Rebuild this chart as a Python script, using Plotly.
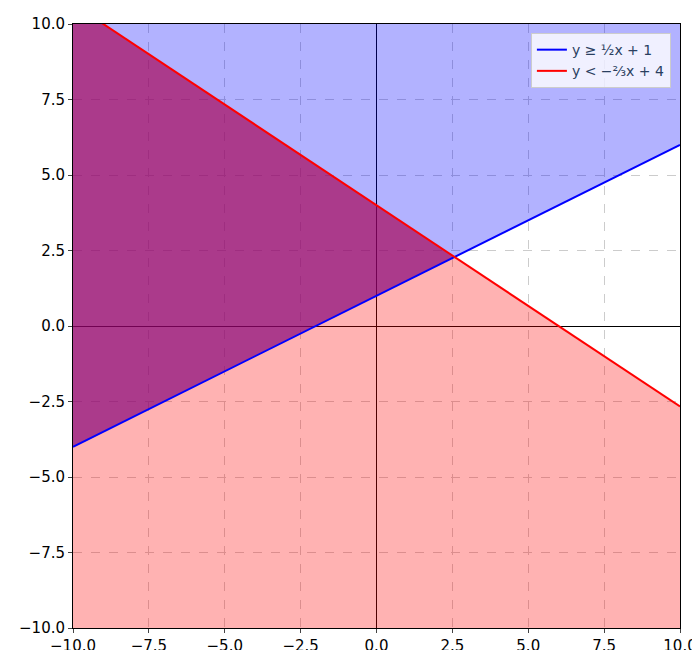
import numpy as np
import plotly.graph_objects as go

# line endpoints (x from -10 to 10)
line_x = [-10, 10]
blue_y = [-4.0, 6.0]        # y >= 1/2 x + 1
red_y = [10.667, -2.667]    # y < -2/3 x + 4
ticks = [-10, -7.5, -5, -2.5, 0, 2.5, 5, 7.5, 10]

lo, hi = -10, 10

# intersection of the two lines, from their endpoints
sb = (blue_y[1] - blue_y[0]) / (line_x[1] - line_x[0])
sr = (red_y[1] - red_y[0]) / (line_x[1] - line_x[0])
xi = line_x[0] + (red_y[0] - blue_y[0]) / (sb - sr)
yi = blue_y[0] + sb * (xi - line_x[0])

fig = go.Figure()

# blue region (above blue line)
fig.add_trace(go.Scatter(x=line_x + [hi, lo], y=blue_y + [hi, hi], fill="toself",
                         fillcolor="rgba(0,0,255,0.3)", line=dict(width=0), mode="lines",
                         showlegend=False, hoverinfo="skip"))
# red region (below red line)
fig.add_trace(go.Scatter(x=line_x + [hi, lo], y=red_y + [lo, lo], fill="toself",
                         fillcolor="rgba(255,0,0,0.3)", line=dict(width=0), mode="lines",
                         showlegend=False, hoverinfo="skip"))
# overlap, darkened to the purple of the reference
fig.add_trace(go.Scatter(x=[line_x[0], xi, line_x[0]], y=[blue_y[0], yi, red_y[0]], fill="toself",
                         fillcolor="rgba(145,3,107,0.55)", line=dict(width=0), mode="lines",
                         showlegend=False, hoverinfo="skip"))

fig.add_trace(go.Scatter(x=line_x, y=blue_y, mode="lines", line=dict(color="blue", width=2),
                         name="y ≥ ½x + 1"))
fig.add_trace(go.Scatter(x=line_x, y=red_y, mode="lines", line=dict(color="red", width=2),
                         name="y < −⅔x + 4"))

ax = dict(range=[lo, hi], tickvals=ticks, ticktext=[f"{t:.1f}".replace("-", "−") for t in ticks],
          showgrid=True, gridcolor="#cccccc", griddash="dash", gridwidth=0.7,
          zeroline=True, zerolinecolor="black", zerolinewidth=1,
          showline=True, linecolor="black", linewidth=1, mirror=True, automargin=False,
          ticks="outside", ticklen=4, tickfont=dict(size=15, color="black"))

fig.update_layout(
    width=700, height=650, plot_bgcolor="white", paper_bgcolor="white",
    margin=dict(l=65, r=28, t=16, b=30),
    font=dict(family="DejaVu Sans"),
    xaxis=ax, yaxis=ax,
    legend=dict(x=0.985, y=0.985, xanchor="right", yanchor="top",
                bgcolor="rgba(255,255,255,0.8)", bordercolor="#cccccc", borderwidth=1,
                font=dict(size=14)),
)

fig.write_html("out.html")
